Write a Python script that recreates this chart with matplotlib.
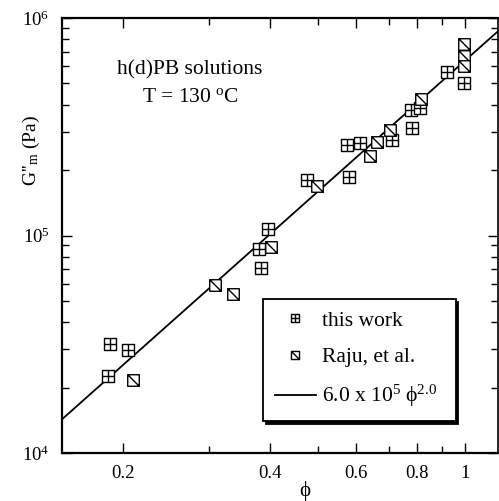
import matplotlib
matplotlib.use("Agg")
import matplotlib.pyplot as plt
from matplotlib.path import Path
from matplotlib.ticker import FixedLocator, FixedFormatter, LogLocator, NullFormatter
import numpy as np

plt.rcParams['font.family'] = ['Liberation Serif', 'DejaVu Serif']
plt.rcParams['mathtext.fontset'] = 'custom'
plt.rcParams['mathtext.rm'] = 'Liberation Serif'
plt.rcParams['mathtext.it'] = 'Liberation Serif:italic'

# this work (h(d)PB solutions)
phi_this = [0.186, 0.188, 0.205, 0.380, 0.383, 0.396, 0.475, 0.579, 0.574,
            0.610, 0.710, 0.781, 0.778, 0.811, 0.922, 0.995]
g_this = [22600, 31800, 29800, 87100, 71200, 106600, 179200, 185000, 260000,
          265000, 274000, 311000, 377000, 385000, 564000, 501000]

# Raju et al.
phi_raju = [0.210, 0.308, 0.335, 0.402, 0.498, 0.640, 0.662, 0.703, 0.815,
            0.995, 0.995, 0.995]
g_raju = [21700, 59500, 54000, 88100, 168000, 231000, 268000, 305000, 424000,
          759000, 668000, 601000]

# power-law fit, as drawn in the figure
prefactor = 6.35e5
exponent = 2.0
phi_fit = [0.15, 1.17]

xticks = [0.2, 0.4, 0.6, 0.8, 1.0]
xtick_labels = ['0.2', '0.4', '0.6', '0.8', '1']
xminor = [0.3, 0.5, 0.7, 0.9]

M, L, C = Path.MOVETO, Path.LINETO, Path.CLOSEPOLY
plus_box = Path([(-1, -1), (1, -1), (1, 1), (-1, 1), (-1, -1),
                 (0, -1), (0, 1), (-1, 0), (1, 0)],
                [M, L, L, L, C, M, L, M, L])
slash_box = Path([(-1, -1), (1, -1), (1, 1), (-1, 1), (-1, -1),
                  (-1, 1), (1, -1)],
                 [M, L, L, L, C, M, L])

fig = plt.figure(figsize=(4.99, 5.01), dpi=100)
ax = fig.add_axes([62 / 499, 1 - 453 / 501, 436 / 499, 435 / 501])

x_fit = np.array(phi_fit)
ax.plot(x_fit, prefactor * x_fit ** exponent, color='black', lw=1.3,
        label=r'6.0 x 10$^{5}$ ϕ$^{2.0}$  ', zorder=2)
ax.plot(phi_this, g_this, linestyle='none', marker=plus_box, markersize=8.3,
        mfc='white', mec='black', mew=1.0, label='this work', zorder=3)
ax.plot(phi_raju, g_raju, linestyle='none', marker=slash_box, markersize=8.3,
        mfc='white', mec='black', mew=1.0, label='Raju, et al.', zorder=3)

ax.set_xscale('log')
ax.set_yscale('log')
ax.set_xlim(0.15, 1.17)
ax.set_ylim(1e4, 1e6)

ax.xaxis.set_major_locator(FixedLocator(xticks))
ax.xaxis.set_major_formatter(FixedFormatter(xtick_labels))
ax.xaxis.set_minor_locator(FixedLocator(xminor))
ax.xaxis.set_minor_formatter(NullFormatter())
ax.yaxis.set_minor_locator(LogLocator(base=10, subs=np.arange(2, 10)))
ax.yaxis.set_minor_formatter(NullFormatter())

ax.tick_params(which='both', direction='in', top=True, right=True,
               labelsize=13.5, width=1.0)
ax.tick_params(which='major', length=7, pad=9)
ax.tick_params(which='minor', length=5)

for side, w in [('left', 1.6), ('bottom', 1.6), ('top', 1.6), ('right', 1.2)]:
    ax.spines[side].set_linewidth(w)

ax.set_xlabel('ϕ', fontsize=15)
ax.xaxis.set_label_coords(0.557, -0.065)
ax.set_ylabel(r"G''$_{\rm m}$ (Pa)", fontsize=14)
ax.yaxis.set_label_coords(-0.045, 0.695)

ax.text(0.294, 0.880, 'h(d)PB solutions', transform=ax.transAxes,
        ha='center', va='center', fontsize=15.5)
ax.text(0.294, 0.818, r'T = 130 $^{\rm o}$C', transform=ax.transAxes,
        ha='center', va='center', fontsize=15.5)

handles, labels = ax.get_legend_handles_labels()
order = [1, 2, 0]
leg = ax.legend([handles[i] for i in order], [labels[i] for i in order],
                loc='upper left', bbox_to_anchor=(0.461, 0.354),
                borderaxespad=0, fontsize=15.5, markerscale=0.7,
                handlelength=1.9, handletextpad=0.3, labelspacing=0.75,
                borderpad=0.55,
                fancybox=False, edgecolor='black', framealpha=1,
                shadow={'color': 'black', 'alpha': 1})
leg.get_frame().set_linewidth(1.3)

fig.savefig('out.png', dpi=100)
